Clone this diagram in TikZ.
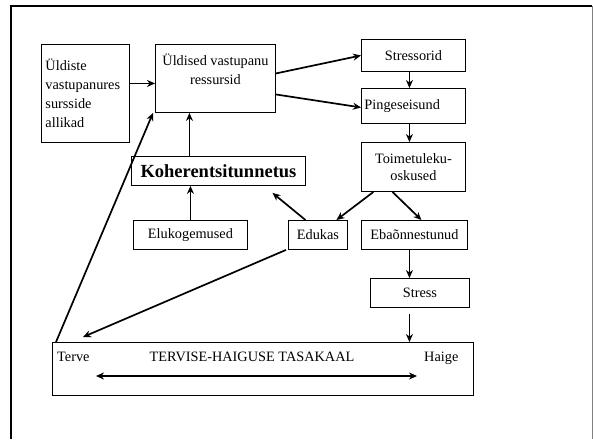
\documentclass[tikz,border=0pt]{standalone}
\usepackage{fontspec}
\setmainfont{Liberation Serif}
\usetikzlibrary{arrows.meta}
\begin{document}
\begin{tikzpicture}[x=1pt,y=-1pt,
  box/.style={draw, line width=0.9pt, inner sep=0pt, anchor=north west,
    font=\fontsize{14.3}{19}\selectfont},
  txt/.style={inner sep=0pt, font=\fontsize{14.3}{19}\selectfont},
  arr/.style={line width=1.7pt, -{Stealth[length=8pt,width=7pt]}},
  darr/.style={line width=1.7pt, {Stealth[length=8pt,width=7pt]}-{Stealth[length=8pt,width=7pt]}}]
\useasboundingbox (0,0) rectangle (593,439);
% outer frame
\draw[line width=1.8pt] (11,439) -- (11,6) -- (592,6);
\draw[line width=0.9pt, gray] (592,6) -- (592,439);

% boxes
\node[box, minimum width=88pt, minimum height=98pt, text width=80pt, inner xsep=4pt, align=left] (b1) at (41,44)
  {Üldiste\\vastupanures\\sursside\\allikad};
\node[box, minimum width=120pt, minimum height=68pt, align=center] (b2) at (155,44)
  {Üldised vastupanu\\ressursid\\\mbox{}};
\node[box, minimum width=104pt, minimum height=32pt] (str) at (361,39) {Stressorid};
\node[box, minimum width=104pt, minimum height=35pt, text width=98pt, inner xsep=3pt, align=left] (ping) at (361,88) {Pingeseisund};
\node[box, minimum width=104pt, minimum height=49pt, align=center, font=\fontsize{14.3}{17}\selectfont] (toim) at (361,142) {Toimetuleku-\\oskused};
\node[box, minimum width=174pt, minimum height=29pt, font=\fontsize{18.5}{20}\selectfont\bfseries] (koh) at (131,156) {Koherentsitunnetus};
\node[box, minimum width=114pt, minimum height=29pt] (elu) at (133,220) {Elukogemused};
\node[box, minimum width=59pt, minimum height=29pt] (edu) at (288,220) {Edukas};
\node[box, minimum width=106pt, minimum height=29pt] (eba) at (361,220) {Ebaõnnestunud};
\node[box, minimum width=99pt, minimum height=29pt] (stress) at (370,278) {Stress};
\node[box, minimum width=421pt, minimum height=53pt] (bb) at (52,342) {};

% texts in bottom box
\node[txt, anchor=base west] (terve) at (57,361) {Terve};
\node[txt, anchor=base] (tasa) at (252,361) {TERVISE-HAIGUSE TASAKAAL};
\node[txt, anchor=base west] (haige) at (424,361) {Haige};
\coordinate (dl) at ([xshift=44pt,yshift=-34pt]bb.north west);
\coordinate (dr) at ([xshift=365pt,yshift=-34pt]bb.north west);
\draw[darr] (dl) -- (dr);

% arrows
\draw[arr] ([yshift=10pt]b1.east) -- ([yshift=-5pt]b2.west);
\draw[arr] ([yshift=5pt]b2.east) -- (str.west);
\draw[arr] ([yshift=-16pt]b2.east) -- ([yshift=-1.5pt]ping.west);
\draw[arr] ([xshift=-4pt]str.south) -- ([xshift=-4pt]ping.north);
\draw[arr] ([xshift=-4pt]ping.south) -- ([xshift=-4pt]toim.north);
\draw[arr] ([xshift=-29pt]koh.north) coordinate (k1) -- (k1 |- b2.south);
\draw[arr] (elu.north) -- (elu.north |- koh.south);
\draw[arr] ([xshift=-12.5pt]edu.north) -- ([xshift=54pt,yshift=-7pt]koh.south);
\draw[arr] ([xshift=-40pt]toim.south) -- ([xshift=18.5pt]edu.north);
\draw[arr] ([xshift=-21pt]toim.south) -- ([xshift=7pt]eba.north);
\draw[arr] ([xshift=-5pt]eba.south) coordinate (e1) -- (e1 |- stress.north);
\draw[arr] ([xshift=-10.5pt,yshift=-6pt]stress.south) coordinate (s1) -- (s1 |- bb.north);
\draw[arr] ([xshift=-2pt]edu.south west) -- ([xshift=31pt,yshift=5pt]bb.north west);
\draw[arr] ([xshift=4pt]bb.north west) -- ([xshift=-2pt]b2.south west);
\end{tikzpicture}
\end{document}
